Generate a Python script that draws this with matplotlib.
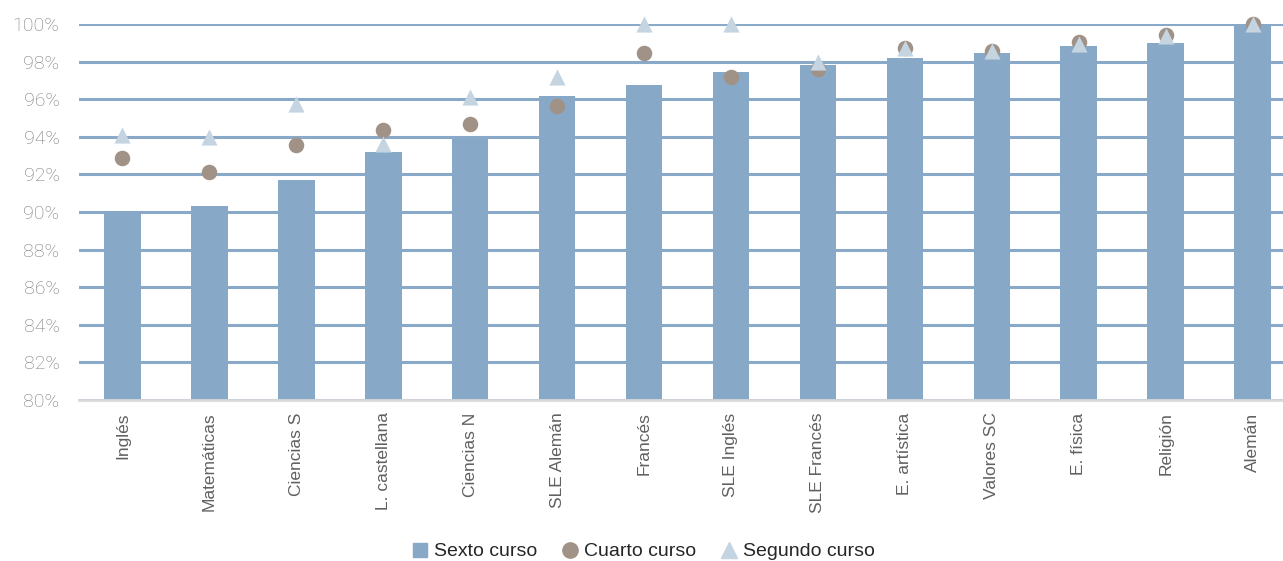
import matplotlib
matplotlib.use("Agg")
import matplotlib.pyplot as plt
import numpy as np
from matplotlib.ticker import FuncFormatter
from matplotlib.lines import Line2D

materias = ["Inglés", "Matemáticas", "Ciencias S", "L. castellana", "Ciencias N",
            "SLE Alemán", "Francés", "SLE Inglés", "SLE Francés", "E. artística",
            "Valores SC", "E. física", "Religión", "Alemán"]
sexto = [90.05, 90.3, 91.7, 93.2, 93.87, 96.17, 96.76, 97.43, 97.82, 98.17,
         98.44, 98.85, 98.99, 100.0]
cuarto = [92.89, 92.15, 93.56, 94.36, 94.7, 95.64, 98.48, 97.2, 97.59, 98.74,
          98.56, 99.06, 99.41, 100.0]
segundo = [94.1, 94.0, 95.74, 93.6, 96.13, 97.2, 100.0, 100.0, 98.0, 98.74,
           98.56, 98.95, 99.36, 100.0]
series = ["Sexto curso", "Cuarto curso", "Segundo curso"]

c_bar = "#87a8c6"
c_circ = "#a09287"
c_tri = "#c5d4e1"
sans = ["Liberation Sans", "DejaVu Sans"]

fig = plt.figure(figsize=(12.83, 5.61), dpi=100)
ax = fig.add_axes([79 / 1283, 1 - 400 / 561, 1 - 79 / 1283, (400 - 24) / 561])

x = np.arange(len(materias))
ax.bar(x, sexto, width=0.42, color=c_bar, zorder=2)
ax.scatter(x, cuarto, s=125, marker="o", color=c_circ, zorder=3, linewidths=0,
           clip_on=False)
ax.scatter(x, segundo, s=135, marker="^", color=c_tri, zorder=4, linewidths=0,
           clip_on=False)

ax.set_ylim(80, 100)
ax.set_xlim(-0.5, 13.35)
ax.set_yticks(np.arange(80, 101, 2))
ax.yaxis.set_major_formatter(FuncFormatter(lambda v, p: f"{v:.0f}%"))
ax.grid(axis="y", color="#8aa9c8", linewidth=2.2, zorder=1)
ax.set_axisbelow(True)
for s in ["top", "right", "left"]:
    ax.spines[s].set_visible(False)
ax.spines["bottom"].set_color("#d9d9d9")
ax.spines["bottom"].set_linewidth(2)
ax.spines["bottom"].set_zorder(5)

ax.tick_params(axis="both", length=0)
ax.tick_params(axis="y", pad=14, labelsize=14, labelcolor="#7a7a7a")
for lab in ax.get_yticklabels():
    lab.set_fontfamily(["Roboto", "DejaVu Sans"])
    lab.set_fontweight("light")

ax.set_xticks(x)
ax.set_xticklabels(materias, rotation=90, fontsize=12.5, color="#606060",
                   family=sans)
ax.tick_params(axis="x", pad=9)

handles = [
    Line2D([], [], marker="s", linestyle="none", color=c_bar, markersize=10),
    Line2D([], [], marker="o", linestyle="none", color=c_circ, markersize=11),
    Line2D([], [], marker="^", linestyle="none", color=c_tri, markersize=11),
]
leg = fig.legend(handles, series, loc="lower center",
                 bbox_to_anchor=(0.5, -0.03), ncol=3, frameon=False,
                 prop={"family": sans, "size": 14}, handletextpad=0.1,
                 columnspacing=1.1, handlelength=1.2)
for t in leg.get_texts():
    t.set_color("#262626")

fig.savefig("out.png", dpi=100)
